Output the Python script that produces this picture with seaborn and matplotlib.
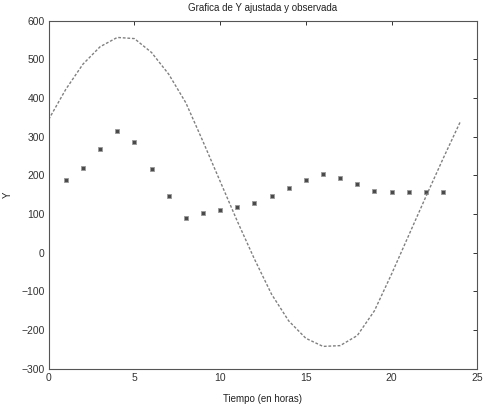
import numpy as np
import pandas as pd
import seaborn as sns
import matplotlib
matplotlib.use("Agg")
import matplotlib.pyplot as plt

# hours
t_fit = list(range(0, 25))
# fitted Y (every hour)
y_fit = [345, 423, 488, 533, 557, 554, 518, 462, 388, 288, 185, 82, -16,
         -107, -176, -221, -242, -240, -214, -150, -55, 45, 145, 243, 338]

# observed Y
t_obs = list(range(1, 24))
y_obs = [189, 219, 268, 316, 287, 217, 148, 91, 103, 112, 118, 129, 148,
         167, 188, 204, 194, 177, 161, 157, 156, 157, 157]

x_ticks = [0, 5, 10, 15, 20, 25]
y_ticks = [-300, -200, -100, 0, 100, 200, 300, 400, 500, 600]

fit = pd.DataFrame({"t": t_fit, "y": y_fit})
obs = pd.DataFrame({"t": t_obs, "y": y_obs})

sns.set_theme(style="white")
plt.rcParams["font.family"] = ["Liberation Sans", "DejaVu Sans"]

fig = plt.figure(figsize=(4.87, 4.08), dpi=100)
ax = fig.add_axes([0.100, 0.096, 0.880, 0.853])

sns.lineplot(x="t", y="y", data=fit, ax=ax, color="#808080", lw=1.0,
             linestyle=(0, (2.0, 1.3)))
sns.scatterplot(x="t", y="y", data=obs, ax=ax, marker="s", s=10,
                color="#4a4a4a", edgecolor="#9a9a9a", linewidth=0.6)

ax.set_xlim(0, 25)
ax.set_ylim(-300, 600)
ax.set_xticks(x_ticks)
ax.set_yticks(y_ticks)

ax.tick_params(direction="in", length=3, width=0.7, colors="#333333",
               labelsize=7.5, top=True, right=True, pad=3)
for s in ax.spines.values():
    s.set_color("#555555")
    s.set_linewidth(0.8)

ax.set_title("Grafica de Y ajustada y observada", fontsize=7, pad=7,
             color="#222222")
ax.set_xlabel("Tiempo (en horas)", fontsize=7, labelpad=8, color="#222222")
ax.set_ylabel("Y", fontsize=7, labelpad=6, color="#222222")

plt.savefig("out.png", dpi=100)
